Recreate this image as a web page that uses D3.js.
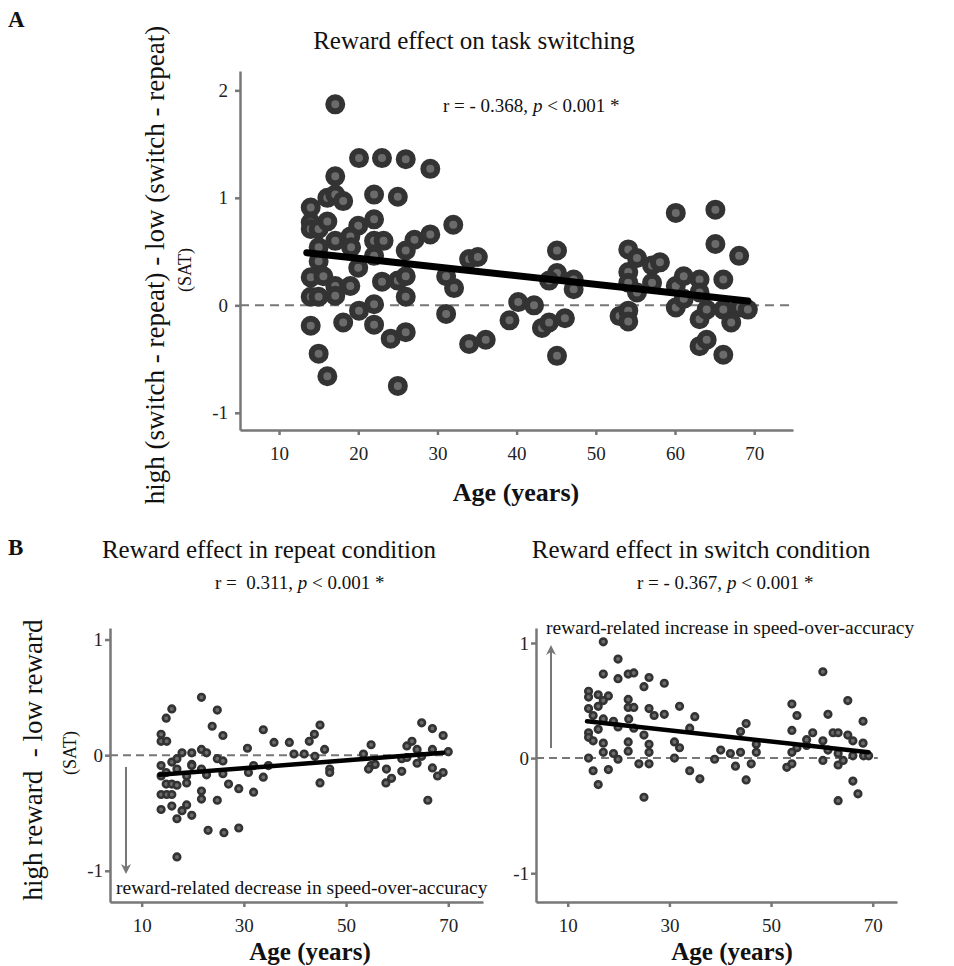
<!DOCTYPE html>
<html>
<head>
<meta charset="utf-8">
<script src="https://cdn.jsdelivr.net/npm/d3@7"></script>
<style>
  body { margin: 0; background: #fff; }
  svg { font-family: "Liberation Serif", "Times New Roman", serif; }
  .axis path, .axis line { stroke: #777; stroke-width: 2.5; }
  .axis text { fill: #222; font-family: "Liberation Serif", serif; }
</style>
</head>
<body>
<svg id="chart" width="954" height="966"></svg>
<script>
// panel A : reward effect on task switching
const ageA = [17.1,20.1,23.0,26.0,29.1,17.1,14.0,16.1,17.1,18.1,22.0,25.0,14.0,14.0,15.0,16.1,20.0,22.0,19.0,17.1,
  15.0,19.1,22.0,23.2,22.0,27.1,26.0,29.1,32.0,15.0,20.0,14.0,15.6,17.1,19.0,23.0,25.0,26.0,14.0,15.0,
  17.1,26.0,31.1,32.1,34.0,35.1,22.0,20.1,31.1,14.0,18.1,22.0,24.1,26.0,15.0,16.1,25.0,34.0,36.1,39.1,
  40.2,42.2,43.2,44.1,45.1,45.1,44.1,45.1,47.2,47.2,46.1,54.1,55.2,54.1,54.1,55.2,57.1,58.1,57.1,53.0,
  54.1,54.1,60.1,65.1,65.1,68.1,60.1,61.1,63.1,66.1,60.1,61.1,63.1,63.1,64.0,66.1,67.1,68.2,69.2,63.1,
  64.0,66.1];
const effectA = [1.87,1.37,1.37,1.36,1.27,1.20,0.91,1.00,1.03,0.97,1.03,1.01,0.77,0.71,0.71,0.78,0.74,0.80,0.64,0.60,
  0.54,0.54,0.60,0.60,0.46,0.61,0.51,0.66,0.75,0.41,0.35,0.26,0.27,0.18,0.18,0.22,0.23,0.27,0.08,0.08,
  0.09,0.08,0.27,0.16,0.43,0.45,0.01,-0.05,-0.08,-0.19,-0.16,-0.18,-0.31,-0.25,-0.45,-0.66,-0.75,-0.36,-0.32,-0.14,
  0.03,0.00,-0.21,-0.16,0.51,0.30,0.23,-0.47,0.24,0.15,-0.12,0.52,0.44,0.31,0.21,0.12,0.37,0.40,0.21,-0.10,
  -0.05,-0.15,0.86,0.89,0.57,0.46,0.18,0.27,0.24,0.24,-0.02,0.06,0.12,-0.13,-0.04,-0.04,-0.16,-0.02,-0.04,-0.38,
  -0.32,-0.46];
const fitAgeA = [13.5, 69.2];
const fitA = [0.49, 0.04];

// panel B left : repeat condition
const ageRepeat = [21.7,15.9,24.8,14.8,23.8,25.9,13.8,13.8,14.9,33.8,35.9,38.9,39.8,41.8,42.8,43.8,44.9,45.8,43.9,44.9,
  46.8,46.8,30.7,30.9,31.9,31.9,33.8,34.8,29.0,27.0,29.0,23.0,26.1,16.9,19.8,18.8,16.9,17.9,13.8,13.8,
  14.9,15.9,15.9,13.8,13.8,14.8,14.8,15.9,15.9,16.9,16.9,16.9,17.9,18.8,18.8,19.8,19.8,19.8,21.7,22.7,
  21.7,21.7,21.7,22.7,24.8,25.9,25.9,24.8,53.4,54.9,54.9,54.4,55.7,57.8,58.9,57.9,60.9,60.9,61.9,62.9,
  61.9,63.9,63.9,64.8,64.8,66.0,66.9,66.9,66.9,67.9,69.0,69.0,70.0];
const effectRepeat = [0.50,0.40,0.39,0.32,0.25,0.17,0.18,0.12,0.12,0.22,0.11,0.11,0.01,0.01,0.12,0.18,0.26,0.05,-0.01,-0.24,
  -0.12,-0.15,0.06,-0.15,-0.09,-0.32,-0.19,-0.09,-0.29,-0.25,-0.63,-0.65,-0.67,-0.88,-0.52,-0.43,-0.55,-0.48,-0.47,-0.34,
  -0.34,-0.34,-0.44,-0.09,-0.18,-0.15,-0.25,-0.06,-0.25,-0.03,-0.12,-0.26,0.02,-0.18,-0.24,0.02,-0.08,-0.09,0.05,0.02,
  -0.12,-0.31,-0.38,-0.17,-0.03,-0.05,-0.16,-0.39,0.01,0.09,-0.09,-0.12,-0.08,-0.24,-0.20,-0.12,-0.03,-0.14,0.08,0.12,
  -0.02,0.05,-0.07,0.28,-0.01,-0.39,0.23,0.05,-0.11,-0.18,0.17,-0.15,0.03];
const fitAgeRepeat = [13.5, 69.0];
const fitRepeat = [-0.17, 0.02];

// panel B right : switch condition
const ageSwitch = [17.0,19.9,17.0,19.9,21.9,23.0,26.0,25.0,29.0,14.1,14.1,16.0,18.0,16.0,17.0,21.9,21.9,23.0,14.1,26.0,
  27.0,29.0,32.0,35.0,15.0,17.0,19.0,19.9,22.0,23.0,14.1,14.1,15.0,16.0,17.0,17.0,19.0,19.9,21.9,21.9,
  25.0,26.0,26.0,31.0,32.0,34.0,31.0,14.1,15.0,18.0,16.0,24.0,26.0,25.0,34.0,36.0,38.9,40.1,42.0,43.0,
  44.0,44.0,45.1,45.1,46.1,47.1,47.1,53.1,54.1,54.1,55.1,54.1,54.1,55.1,57.0,57.0,58.2,60.2,61.2,60.2,
  60.2,61.2,62.2,63.2,63.2,63.2,63.2,64.2,65.1,65.1,66.1,66.1,66.1,67.1,68.1,68.1,68.2,69.2];
const effectSwitch = [1.01,0.86,0.73,0.69,0.73,0.74,0.70,0.62,0.65,0.58,0.53,0.55,0.54,0.45,0.50,0.51,0.44,0.44,0.43,0.43,
  0.37,0.38,0.45,0.36,0.37,0.34,0.32,0.27,0.34,0.26,0.22,0.18,0.15,0.25,0.13,0.05,0.04,-0.01,0.14,0.06,
  0.20,0.12,0.05,0.14,0.09,0.26,0.00,0.00,-0.11,-0.10,-0.23,-0.05,-0.05,-0.34,-0.11,-0.18,-0.01,0.07,0.04,-0.07,
  0.05,0.23,0.30,-0.19,-0.05,0.12,0.05,-0.08,-0.05,0.47,0.37,0.24,0.05,0.09,0.11,0.16,0.22,0.75,0.38,0.15,
  -0.02,0.07,0.22,0.22,0.04,-0.06,-0.37,-0.02,0.50,0.20,0.15,0.02,-0.20,-0.31,0.32,0.13,0.02,0.02];
const fitAgeSwitch = [13.8, 69.2];
const fitSwitch = [0.32, 0.05];

const ticksAx = [10, 20, 30, 40, 50, 60, 70];
const ticksAy = [-1, 0, 1, 2];
const ticksBx = [10, 30, 50, 70];
const ticksBy = [-1, 0, 1];

const svg = d3.select('#chart');

svg.append('defs').append('marker')
  .attr('id', 'arrow')
  .attr('viewBox', '0 0 10 10')
  .attr('refX', 8).attr('refY', 5)
  .attr('markerWidth', 5).attr('markerHeight', 5)
  .attr('markerUnits', 'strokeWidth')
  .attr('orient', 'auto')
  .append('path')
  .attr('d', 'M0,0 L10,5 L0,10 L3,5 Z')
  .attr('fill', '#777');

function drawPanel(cfg) {
  const x = d3.scaleLinear().domain(cfg.xDomain).range(cfg.xRange);
  const y = d3.scaleLinear().domain(cfg.yDomain).range(cfg.yRange);
  const g = svg.append('g');
  const fmt = d => String(d);

  g.append('g').attr('class', 'axis')
    .attr('transform', 'translate(0,' + cfg.yRange[0] + ')')
    .call(d3.axisBottom(x).tickValues(cfg.xTicks).tickFormat(fmt).tickSize(5).tickSizeOuter(0).tickPadding(cfg.xPad))
    .selectAll('text').style('font-size', cfg.tickFont + 'px');

  g.append('g').attr('class', 'axis')
    .attr('transform', 'translate(' + cfg.xRange[0] + ',0)')
    .call(d3.axisLeft(y).tickValues(cfg.yTicks).tickFormat(fmt).tickSize(5).tickSizeOuter(0).tickPadding(cfg.yPad))
    .selectAll('text').style('font-size', cfg.tickFont + 'px');

  g.append('line')
    .attr('x1', cfg.xRange[0]).attr('x2', x(cfg.zeroEnd))
    .attr('y1', y(0)).attr('y2', y(0))
    .attr('stroke', '#777').attr('stroke-width', 2)
    .attr('stroke-dasharray', cfg.dash);

  g.selectAll('circle.pt').data(cfg.ages)
    .enter().append('circle')
    .attr('class', 'pt')
    .attr('cx', d => x(d))
    .attr('cy', (d, i) => y(cfg.values[i]))
    .attr('r', cfg.r)
    .attr('fill', '#6b6b6b')
    .attr('stroke', '#333')
    .attr('stroke-width', cfg.sw);

  g.append('line')
    .attr('x1', x(cfg.fitAge[0])).attr('x2', x(cfg.fitAge[1]))
    .attr('y1', y(cfg.fit[0])).attr('y2', y(cfg.fit[1]))
    .attr('stroke', '#000').attr('stroke-width', cfg.fitW)
    .attr('stroke-linecap', 'round');

  return { x: x, y: y };
}

// ----- panel A
drawPanel({
  xDomain: [5.07, 74.9], xRange: [240, 793],
  yDomain: [-1.16, 2.18], yRange: [430, 71],
  xTicks: ticksAx, yTicks: ticksAy, xPad: 12, yPad: 7, tickFont: 19,
  zeroEnd: 74.9, dash: '9,6',
  ages: ageA, values: effectA, r: 7, sw: 6,
  fitAge: fitAgeA, fit: fitA, fitW: 7
});

// ----- panel B left
drawPanel({
  xDomain: [3.8, 76.8], xRange: [110, 483],
  yDomain: [-1.27, 1.10], yRange: [902, 628],
  xTicks: ticksBx, yTicks: ticksBy, xPad: 12, yPad: 2, tickFont: 19,
  zeroEnd: 70.3, dash: '8,5',
  ages: ageRepeat, values: effectRepeat, r: 3.3, sw: 2.6,
  fitAge: fitAgeRepeat, fit: fitRepeat, fitW: 4.5
});

// ----- panel B right
drawPanel({
  xDomain: [3.76, 74.78], xRange: [536, 897],
  yDomain: [-1.25, 1.13], yRange: [902, 628],
  xTicks: ticksBx, yTicks: ticksBy, xPad: 12, yPad: 2, tickFont: 19,
  zeroEnd: 71, dash: '8,5',
  ages: ageSwitch, values: effectSwitch, r: 3.3, sw: 2.6,
  fitAge: fitAgeSwitch, fit: fitSwitch, fitW: 4.5
});

// arrows
svg.append('line').attr('x1', 126).attr('x2', 126).attr('y1', 767).attr('y2', 872)
  .attr('stroke', '#777').attr('stroke-width', 2).attr('marker-end', 'url(#arrow)');
svg.append('line').attr('x1', 551).attr('x2', 551).attr('y1', 748).attr('y2', 647)
  .attr('stroke', '#777').attr('stroke-width', 2).attr('marker-end', 'url(#arrow)');

// texts
function txt(x, y, s, size, opts) {
  opts = opts || {};
  const t = svg.append('text')
    .attr('x', x).attr('y', y)
    .attr('font-size', size + 'px')
    .attr('fill', '#111')
    .attr('text-anchor', opts.anchor || 'middle')
    .attr('font-weight', opts.bold ? 'bold' : 'normal')
    .style('white-space', 'pre');
  if (opts.rotate) t.attr('transform', 'rotate(-90,' + x + ',' + y + ')').attr('dy', '0.35em');
  if (opts.parts) {
    opts.parts.forEach(p => t.append('tspan').attr('font-style', p[1] ? 'italic' : 'normal').text(p[0]));
  } else {
    t.text(s);
  }
  return t;
}

txt(8, 27, 'A', 23, { anchor: 'start', bold: true });
txt(8, 555, 'B', 23, { anchor: 'start', bold: true });

txt(474, 49, 'Reward effect on task switching', 25);
txt(443, 112, null, 19, { anchor: 'start', parts: [['r = - 0.368, ', false], ['p', true], [' < 0.001 *', false]] });
txt(155, 265, 'high (switch - repeat) - low (switch - repeat)', 27, { rotate: true });
txt(185, 270, '(SAT)', 18, { rotate: true });
txt(516, 501, 'Age (years)', 26, { bold: true });

txt(269, 558, 'Reward effect in repeat condition', 25);
txt(215, 589, null, 19, { anchor: 'start', parts: [['r =  0.311, ', false], ['p', true], [' < 0.001 *', false]] });
txt(33, 760, 'high reward  - low reward', 27, { rotate: true });
txt(70, 753, '(SAT)', 18, { rotate: true });
txt(310, 960, 'Age (years)', 25, { bold: true });
txt(116, 894, 'reward-related decrease in speed-over-accuracy', 19.5, { anchor: 'start' });

txt(701, 558, 'Reward effect in switch condition', 25);
txt(637, 589, null, 19, { anchor: 'start', parts: [['r = - 0.367, ', false], ['p', true], [' < 0.001 *', false]] });
txt(732, 960, 'Age (years)', 25, { bold: true });
txt(546, 634, 'reward-related increase in speed-over-accuracy', 19.5, { anchor: 'start' });
</script>
</body>
</html>
